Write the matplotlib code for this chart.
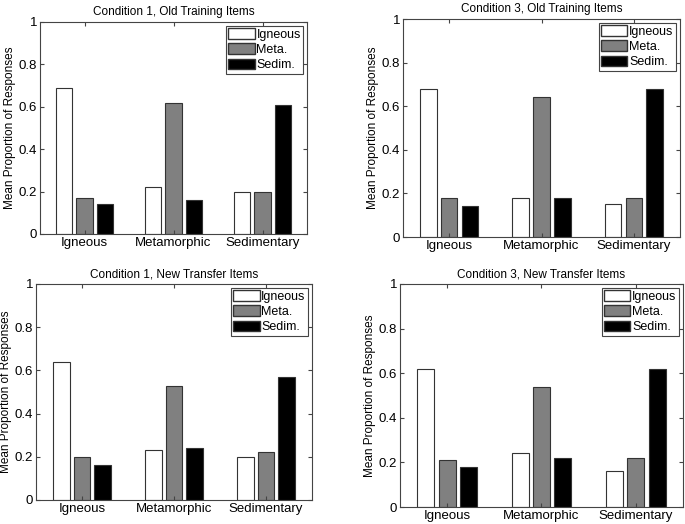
import numpy as np
import matplotlib.pyplot as plt
from matplotlib.patches import Patch

plt.rcParams['font.family'] = ['Liberation Sans', 'DejaVu Sans']

categories = ['Igneous', 'Metamorphic', 'Sedimentary']
series = ['Igneous', 'Meta.', 'Sedim.']

titles = ['Condition 1, Old Training Items', 'Condition 3, Old Training Items',
          'Condition 1, New Transfer Items', 'Condition 3, New Transfer Items']

# rows: true category, columns: response (Igneous, Meta., Sedim.)
c1_old = [[0.69, 0.17, 0.14], [0.22, 0.62, 0.16], [0.20, 0.20, 0.61]]
c3_old = [[0.68, 0.18, 0.14], [0.18, 0.64, 0.18], [0.15, 0.18, 0.68]]
c1_new = [[0.64, 0.20, 0.16], [0.23, 0.53, 0.24], [0.20, 0.22, 0.57]]
c3_new = [[0.62, 0.21, 0.18], [0.24, 0.54, 0.22], [0.16, 0.22, 0.62]]

panels = [c1_old, c3_old, c1_new, c3_new]
colors = ['white', '#808080', 'black']

W, H = 685, 524
# axes boxes in pixels: left, top, right, bottom
boxes = [(40, 22, 307, 234), (403, 19, 680, 237),
         (36, 284, 312, 500), (400, 284, 683, 507)]

fig = plt.figure(figsize=(W / 100, H / 100), dpi=100)

def PlotPanel(ax, data, title):
    data = np.array(data)
    x = np.arange(1, 4)
    for j in range(3):
        ax.bar(x + (j - 1) * 0.225, data[:, j], width=0.18, color=colors[j],
               edgecolor='#333333', linewidth=0.8)
    ax.set_xlim(0.5, 3.5)
    ax.set_ylim(0, 1)
    ax.set_xticks(x)
    ax.set_xticklabels(categories, fontsize=9.5)
    ax.set_yticks([0, 0.2, 0.4, 0.6, 0.8, 1])
    ax.set_yticklabels(['0', '0.2', '0.4', '0.6', '0.8', '1'], fontsize=9.5)
    ax.tick_params(direction='in', top=True, right=True, length=3, color='#444444', pad=2)
    for s in ax.spines.values():
        s.set_color('#444444')
    ax.set_title(title, fontsize=8.5, pad=5)
    ax.set_ylabel('Mean Proportion of Responses', fontsize=8.5, labelpad=2)
    handles = [Patch(facecolor=c, edgecolor='#333333', label=l) for c, l in zip(colors, series)]
    leg = ax.legend(handles=handles, loc='upper right', fontsize=9, fancybox=False,
                    framealpha=1, edgecolor='#444444', handlelength=2.1, handleheight=0.95,
                    handletextpad=0.15, labelspacing=0.2, borderpad=0.2, borderaxespad=0.3)
    leg.get_frame().set_linewidth(0.8)

for (l, t, r, b), data, title in zip(boxes, panels, titles):
    ax = fig.add_axes([l / W, 1 - b / H, (r - l) / W, (b - t) / H])
    PlotPanel(ax, data, title)

fig.savefig('out.png', dpi=100)
